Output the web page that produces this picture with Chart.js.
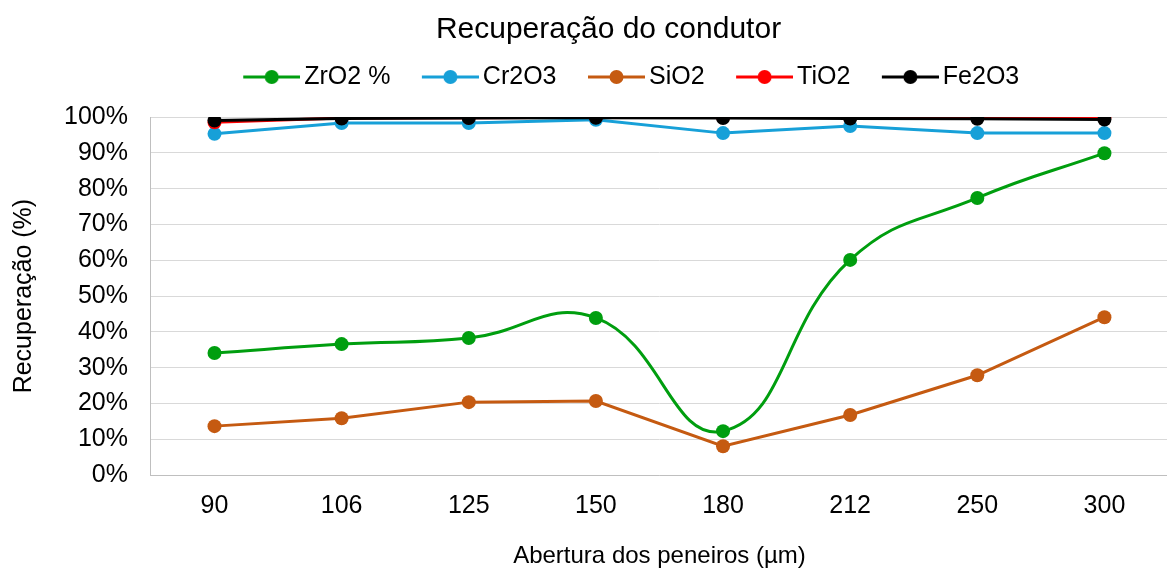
<!DOCTYPE html>
<html>
<head>
<meta charset="utf-8">
<script src="https://cdn.jsdelivr.net/npm/chart.js@4.4.1/dist/chart.umd.min.js"></script>
<style>
  html, body { margin: 0; background: #fff; overflow: hidden; }
  #wrap { width: 1175px; height: 571px; }
</style>
</head>
<body>
<div id="wrap"><canvas id="myChart"></canvas></div>
<script>
var labels = ["90", "106", "125", "150", "180", "212", "250", "300"];
var zro2 = [34.1, 36.6, 38.3, 43.9, 12.3, 60.1, 77.4, 89.9];
var cr2o3 = [95.3, 98.3, 98.3, 99.2, 95.5, 97.5, 95.5, 95.5];
var sio2 = [13.7, 15.9, 20.4, 20.7, 8.1, 16.8, 27.9, 44.1];
var tio2 = [98.5, 99.7, 99.8, 99.9, 99.9, 99.9, 99.9, 99.9];
var fe2o3 = [99.0, 99.6, 99.7, 99.8, 99.7, 99.6, 99.5, 99.3];

var font = "'Liberation Sans', Arial, sans-serif";

// legend marker: short line with a dot, drawn at the right end of the image
function marker(color) {
  var c = document.createElement("canvas");
  c.width = 87; c.height = 16;
  var g = c.getContext("2d");
  g.strokeStyle = color; g.lineWidth = 3;
  g.beginPath(); g.moveTo(30, 8); g.lineTo(87, 8); g.stroke();
  g.fillStyle = color;
  g.beginPath(); g.arc(58.5, 8, 7, 0, 2 * Math.PI); g.fill();
  return c;
}

function series(label, values, color, order, tension) {
  return {
    label: label,
    data: values,
    borderColor: color,
    backgroundColor: color,
    borderWidth: 3,
    pointRadius: 7,
    pointHoverRadius: 7,
    pointBorderWidth: 0,
    tension: tension,
    order: order,
    legendMarker: marker(color)
  };
}

// move title and legend to where Excel put them
var shiftBoxes = {
  id: "shiftBoxes",
  afterLayout: function(chart) {
    var t = chart.titleBlock;
    t.left += 21; t.right += 21; t.top -= 24; t.bottom -= 24;
    var l = chart.legend;
    l.left += 33; l.right += 33; l.top -= 17.5; l.bottom -= 17.5;
  }
};

var ctx = document.getElementById("myChart");
var myChart = new Chart(ctx, {
  type: "line",
  data: {
    labels: labels,
    datasets: [
      series("ZrO2 %", zro2, "#009e0f", 4, 0.45),
      series("Cr2O3", cr2o3, "#17a0d8", 3, 0),
      series("SiO2", sio2, "#c55a11", 2, 0),
      series("TiO2", tio2, "#ff0000", 1, 0),
      series("Fe2O3", fe2o3, "#000000", 0, 0)
    ]
  },
  plugins: [shiftBoxes],
  options: {
    responsive: true,
    maintainAspectRatio: false,
    animation: false,
    layout: { padding: { left: 0, right: 0, top: 36, bottom: 0 } },
    plugins: {
      title: {
        display: true,
        text: "Recuperação do condutor",
        color: "#000",
        font: { family: font, size: 30, weight: "normal" },
        padding: { top: 0, bottom: 0 }
      },
      legend: {
        display: true,
        position: "top",
        labels: {
          color: "#000",
          font: { family: font, size: 25 },
          usePointStyle: true,
          pointStyleWidth: 70,
          boxHeight: 16,
          padding: 10,
          generateLabels: function(chart) {
            return chart.data.datasets.map(function(ds, i) {
              return {
                text: ds.label,
                pointStyle: ds.legendMarker,
                fillStyle: ds.borderColor,
                strokeStyle: ds.borderColor,
                lineWidth: 0,
                datasetIndex: i,
                fontColor: "#000"
              };
            });
          }
        }
      },
      tooltip: { enabled: false }
    },
    scales: {
      x: {
        offset: true,
        grid: { display: false, drawTicks: false },
        border: { display: true, color: "#bfbfbf", width: 1 },
        ticks: { color: "#000", font: { family: font, size: 25 }, padding: 16 },
        title: {
          display: true,
          text: "Abertura dos peneiros (µm)",
          color: "#000",
          font: { family: font, size: 24 },
          padding: { top: 5, bottom: 0 }
        }
      },
      y: {
        min: 0,
        max: 100,
        grid: { color: "#d9d9d9", lineWidth: 1, drawTicks: false },
        border: { display: true, color: "#bfbfbf", width: 1 },
        ticks: {
          stepSize: 10,
          color: "#000",
          font: { family: font, size: 25 },
          padding: 23,
          callback: function(v) { return v + "%"; }
        },
        title: {
          display: true,
          text: "Recuperação (%)",
          color: "#000",
          font: { family: font, size: 25 },
          padding: { top: 9, bottom: 2 }
        }
      }
    }
  }
});
</script>
</body>
</html>
